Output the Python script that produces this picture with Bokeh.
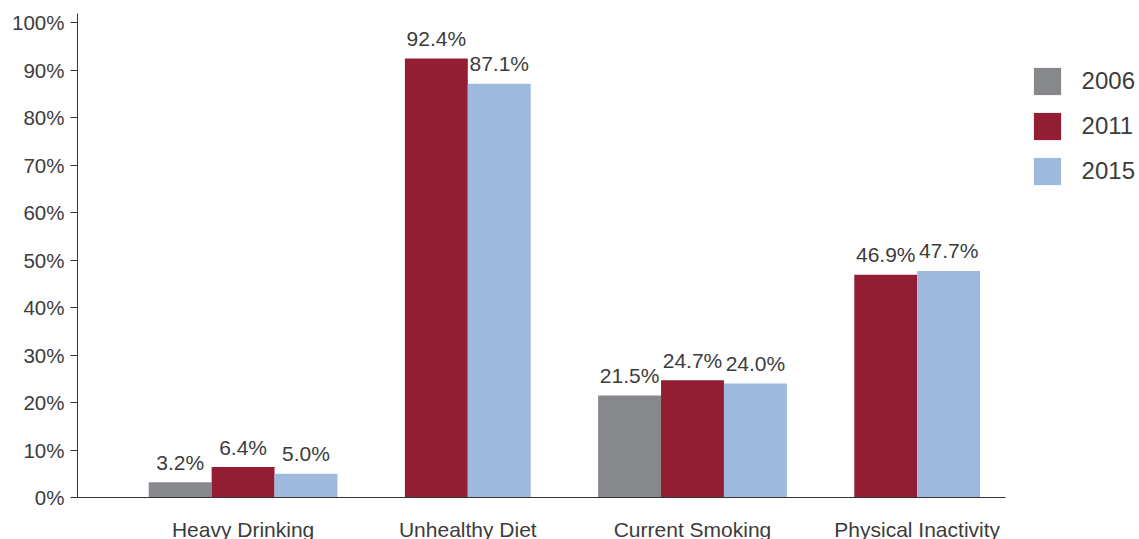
from bokeh.plotting import figure
from bokeh.models import ColumnDataSource, Range1d, Legend, LegendItem, FixedTicker, PrintfTickFormatter
from bokeh.embed import file_html
from bokeh.resources import INLINE
from bokeh.core.properties import value

categories = ["Heavy Drinking", "Unhealthy Diet", "Current Smoking", "Physical Inactivity"]
years = ["2006", "2011", "2015"]
v2006 = [3.2, None, 21.5, None]
v2011 = [6.4, 92.4, 24.7, 46.9]
v2015 = [5.0, 87.1, 24.0, 47.7]
colors = ["#87888c", "#931e34", "#9dbadc"]
y_ticks = [0, 10, 20, 30, 40, 50, 60, 70, 80, 90, 100]

series = [v2006, v2011, v2015]
bar_w = 0.28
FONT = "Liberation Sans"
TXT = "#3c3c3c"

p = figure(frame_width=928, frame_height=484, output_backend="svg", toolbar_location=None,
           x_range=Range1d(-0.737, 3.393), y_range=Range1d(0, 101.9),
           min_border_left=77, min_border_right=134, min_border_top=13, min_border_bottom=42)
p.outline_line_color = None
p.xgrid.visible = False
p.ygrid.visible = False
p.background_fill_color = "white"

data = {s: dict(x=[], top=[], label=[]) for s in range(3)}
for ci in range(len(categories)):
    present = [s for s in range(3) if series[s][ci] is not None]
    n = len(present)
    for k, s in enumerate(present):
        xpos = ci + (k - (n - 1) / 2) * bar_w
        data[s]["x"].append(xpos)
        data[s]["top"].append(series[s][ci])
        data[s]["label"].append(f"{series[s][ci]:.1f}%")

items = []
for s in range(3):
    src = ColumnDataSource(data[s])
    r = p.vbar(x="x", top="top", width=bar_w, bottom=0, source=src,
               fill_color=colors[s], line_color=None)
    p.text(x="x", y="top", text="label", source=src, text_align="center",
           text_baseline="alphabetic", y_offset=-20, text_font=value(FONT),
           text_font_size="21px", text_color=TXT)
    items.append(LegendItem(label=years[s], renderers=[r]))

legend = Legend(items=items, location=(24.6, 309.4), orientation="vertical",
                glyph_width=34, glyph_height=34, label_standoff=18, spacing=11,
                margin=0, padding=0, border_line_color=None, background_fill_alpha=0,
                label_text_font=FONT, label_text_font_size="24px", label_text_color=TXT,
                label_height=34)
p.add_layout(legend, "right")

p.yaxis.ticker = FixedTicker(ticks=y_ticks)
p.yaxis.formatter = PrintfTickFormatter(format="%d%%")
p.yaxis.major_tick_in = 0
p.yaxis.major_tick_out = 7
p.yaxis.minor_tick_line_color = None
p.yaxis.major_label_standoff = 6
p.yaxis.major_label_text_font = FONT
p.yaxis.major_label_text_font_size = "20.5px"
p.yaxis.major_label_text_color = TXT
p.yaxis.axis_line_color = "#333333"
p.yaxis.major_tick_line_color = "#333333"

p.xaxis.ticker = FixedTicker(ticks=[0, 1, 2, 3])
p.xaxis.major_label_overrides = {i: c for i, c in enumerate(categories)}
p.xaxis.major_tick_in = 0
p.xaxis.major_tick_out = 0
p.xaxis.minor_tick_line_color = None
p.xaxis.major_label_standoff = 20
p.xaxis.major_label_text_font = FONT
p.xaxis.major_label_text_font_size = "21px"
p.xaxis.major_label_text_color = TXT
p.xaxis.axis_line_color = "#333333"

open("out.html", "w").write(file_html(p, INLINE))
